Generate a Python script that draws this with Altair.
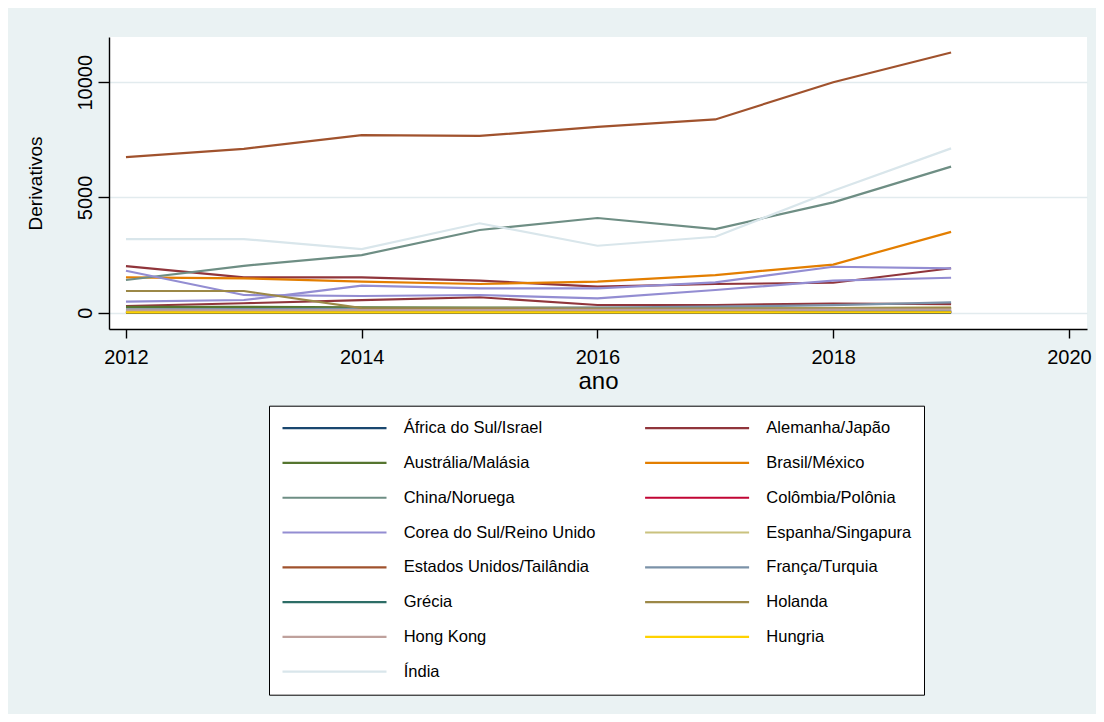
import altair as alt
import pandas as pd

years = [2012, 2013, 2014, 2015, 2016, 2017, 2018, 2019]

groups = ["África do Sul/Israel", "Alemanha/Japão", "Austrália/Malásia", "Brasil/México",
          "China/Noruega", "Colômbia/Polônia", "Corea do Sul/Reino Unido", "Espanha/Singapura",
          "Estados Unidos/Tailândia", "França/Turquia", "Grécia", "Holanda", "Hong Kong",
          "Hungria", "Índia"]
colors = ["#1a476f", "#90353b", "#55752f", "#e37e00", "#6e8e84", "#c10534", "#938dd2",
          "#cac27e", "#a0522d", "#7b92a8", "#2d6d66", "#9c8847", "#bfa19c", "#ffd200", "#d9e6eb"]

africa_do_sul = [40, 45, 45, 50, 50, 55, 55, 60]
israel = [10, 12, 12, 14, 14, 15, 16, 18]
alemanha = [290, 410, 550, 670, 335, 335, 400, 370]
japao = [2025, 1535, 1535, 1390, 1130, 1245, 1300, 1930]
australia = [250, 255, 235, 225, 215, 205, 200, 210]
malasia = [25, 25, 30, 30, 30, 35, 35, 40]
brasil = [1535, 1490, 1345, 1245, 1345, 1635, 2090, 3510]
mexico = [60, 70, 80, 90, 100, 110, 120, 130]
china = [1420, 2035, 2500, 3590, 4110, 3630, 4790, 6340]
noruega = [30, 35, 40, 40, 45, 45, 50, 55]
colombia = [5, 5, 6, 6, 7, 7, 8, 8]
polonia = [15, 18, 20, 20, 22, 25, 25, 28]
corea_do_sul = [477, 551, 1171, 1058, 1058, 1318, 1995, 1925]
reino_unido = [1822, 768, 724, 768, 624, 985, 1388, 1518]
espanha = [150, 150, 150, 160, 170, 180, 200, 230]
singapura = [50, 55, 55, 60, 60, 65, 70, 75]
estados_unidos = [6750, 7110, 7707, 7670, 8060, 8387, 10000, 11290]
tailandia = [20, 22, 25, 25, 28, 30, 30, 35]
franca = [150, 160, 170, 190, 220, 260, 330, 450]
turquia = [90, 95, 100, 105, 110, 115, 120, 125]
grecia = [5, 5, 4, 4, 4, 4, 3, 3]
holanda = [941, 941, 200, 190, 180, 175, 185, 200]
hong_kong = [100, 100, 110, 110, 120, 120, 130, 140]
hungria = [15, 15, 16, 16, 17, 18, 19, 20]
india = [3196, 3196, 2763, 3880, 2906, 3296, 5291, 7130]

series = [
    ("África do Sul", groups[0], africa_do_sul), ("Israel", groups[0], israel),
    ("Alemanha", groups[1], alemanha), ("Japão", groups[1], japao),
    ("Austrália", groups[2], australia), ("Malásia", groups[2], malasia),
    ("Brasil", groups[3], brasil), ("México", groups[3], mexico),
    ("China", groups[4], china), ("Noruega", groups[4], noruega),
    ("Colômbia", groups[5], colombia), ("Polônia", groups[5], polonia),
    ("Corea do Sul", groups[6], corea_do_sul), ("Reino Unido", groups[6], reino_unido),
    ("Espanha", groups[7], espanha), ("Singapura", groups[7], singapura),
    ("Estados Unidos", groups[8], estados_unidos), ("Tailândia", groups[8], tailandia),
    ("França", groups[9], franca), ("Turquia", groups[9], turquia),
    ("Grécia", groups[10], grecia), ("Holanda", groups[11], holanda),
    ("Hong Kong", groups[12], hong_kong), ("Hungria", groups[13], hungria),
    ("Índia", groups[14], india),
]

rows = []
for order, (country, grp, vals) in enumerate(series):
    for yr, v in zip(years, vals):
        rows.append({"pais": country, "grupo": grp, "ano": yr, "deriv": v, "ord": order})
df = pd.DataFrame(rows)

# legend fills column by column: put even-indexed entries first, then odd-indexed
legend_idx = list(range(0, len(groups), 2)) + list(range(1, len(groups), 2))
legend_domain = [groups[i] for i in legend_idx]
legend_range = [colors[i] for i in legend_idx]

FONT = "Liberation Sans"

chart = alt.Chart(df).mark_line(strokeWidth=2.2).encode(
    x=alt.X("ano:Q",
            scale=alt.Scale(domain=[2011.856, 2020.153], zero=False, nice=False),
            axis=alt.Axis(values=[2012, 2014, 2016, 2018, 2020], format="d", grid=False,
                          title="ano", titleFontSize=24, titleFontWeight="normal", titleFont=FONT,
                          titleColor="black", titleX=489, titleY=59, titleAlign="center",
                          titleBaseline="alphabetic",
                          labelFontSize=20, labelFont=FONT, labelColor="black", labelPadding=9,
                          tickSize=9, tickColor="black", tickWidth=1.4,
                          domainColor="black", domainWidth=1.4, labelFlush=False)),
    y=alt.Y("deriv:Q",
            scale=alt.Scale(domain=[-707, 11964], zero=False, nice=False),
            axis=alt.Axis(values=[0, 5000, 10000], format="d", grid=True,
                          gridColor="#e2ebee", gridWidth=1.6,
                          title="Derivativos", titleFontSize=19, titleFontWeight="normal",
                          titleFont=FONT, titleColor="black", titleAngle=270, titleX=-73.5,
                          titleY=146, titleAlign="center", titleBaseline="middle",
                          labelAngle=270, labelAlign="center", labelBaseline="alphabetic",
                          labelFontSize=20, labelFont=FONT, labelColor="black", labelPadding=7,
                          tickSize=11, tickColor="black", tickWidth=1.4,
                          domainColor="black", domainWidth=1.4, labelFlush=False)),
    color=alt.Color("grupo:N",
                    scale=alt.Scale(domain=legend_domain, range=legend_range),
                    legend=alt.Legend(orient="none", legendX=160, legendY=368.7, columns=2,
                                      symbolType="stroke", symbolSize=10816,
                                      symbolStrokeWidth=2.2, clipHeight=21,
                                      rowPadding=13.77, columnPadding=47.6, labelOffset=15.7,
                                      labelFontSize=16.5, labelFont=FONT, labelColor="black",
                                      labelLimit=400, strokeColor="black", padding=12,
                                      fillColor="white", title=None, symbolOpacity=1)),
    detail="pais:N",
    order=alt.Order("ord:Q"),
).properties(
    width=978,
    height=292,
    autosize=alt.AutoSizeParams(type="none"),
    padding={"left": 101, "top": 29, "right": 9, "bottom": 385},
    background="#eaf2f3",
).configure_view(fill="white", stroke=None)

chart.save("out.html", embed_options={"renderer": "svg", "actions": False})
